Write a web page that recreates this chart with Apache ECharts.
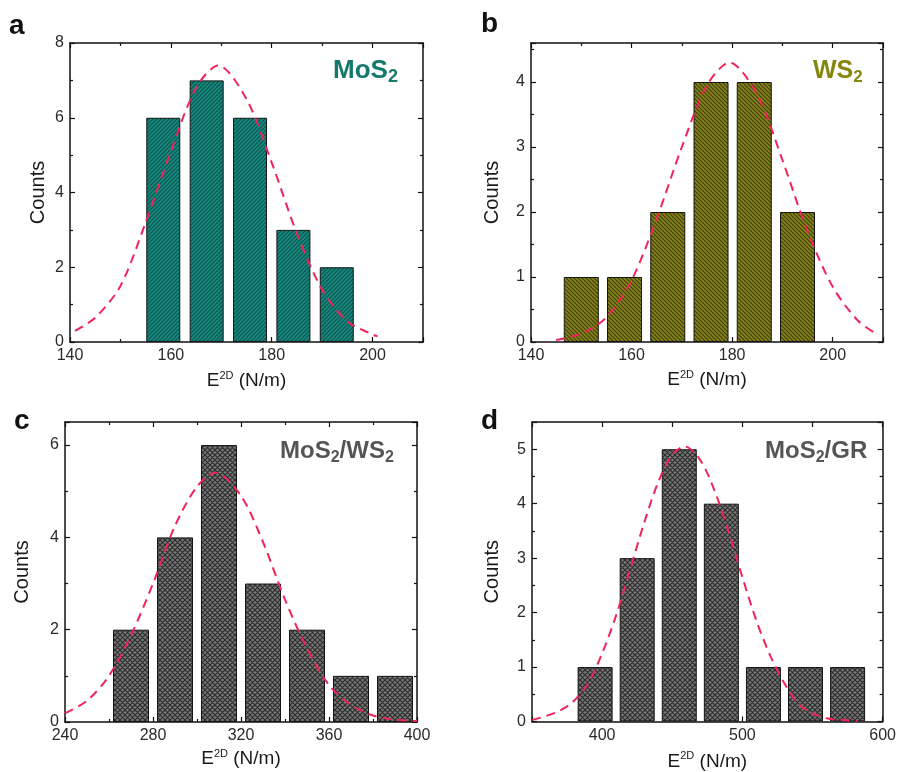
<!DOCTYPE html>
<html>
<head>
<meta charset="utf-8">
<script src="https://cdn.jsdelivr.net/npm/echarts@6/dist/echarts.min.js"></script>
<style>
html, body { margin: 0; background: #fff; }
#main { width: 899px; height: 772px; }
</style>
</head>
<body>
<div id="main"></div>
<script>
// histogram data (bin centres, counts) + gaussian fit points
var aCenters = [158.5, 167.1, 175.7, 184.3, 192.9];
var aCounts = [6, 7, 6, 3, 2];
var aFitX = [141, 145, 150, 155, 160, 165, 169.4, 175, 180, 185, 190, 195, 200, 201];
var aFitY = [0.30, 0.65, 1.5, 3.2, 5.1, 6.8, 7.4, 6.5, 4.8, 2.9, 1.4, 0.55, 0.2, 0.15];

var bCenters = [150, 158.6, 167.2, 175.8, 184.4, 193];
var bCounts = [1, 1, 2, 4, 4, 2];
var bFitX = [145, 150, 155, 160, 165, 170, 175, 179.5, 185, 190, 195, 200, 205, 209];
var bFitY = [0.03, 0.13, 0.38, 0.95, 1.9, 3.0, 3.95, 4.3, 3.8, 2.8, 1.7, 0.85, 0.33, 0.11];

var cCenters = [270, 290, 310, 330, 350, 370, 390];
var cCounts = [2, 4, 6, 3, 2, 1, 1];
var cFitX = [240, 250, 260, 270, 280, 290, 300, 308.5, 320, 330, 340, 350, 360, 370, 380, 390, 400];
var cFitY = [0.19, 0.46, 1.0, 1.88, 3.0, 4.25, 5.1, 5.4, 4.9, 3.9, 2.65, 1.6, 0.8, 0.37, 0.14, 0.05, 0.02];

var dCenters = [395, 425, 455, 485, 515, 545, 575];
var dCounts = [1, 3, 5, 4, 1, 1, 1];
var dFitX = [350, 360, 370, 380, 390, 400, 410, 420, 430, 440, 450, 459, 470, 480, 490, 500, 510, 520, 530, 540, 550, 560, 570, 582];
var dFitY = [0.03, 0.1, 0.2, 0.38, 0.7, 1.25, 1.95, 2.8, 3.65, 4.4, 4.9, 5.05, 4.8, 4.25, 3.5, 2.65, 1.85, 1.2, 0.7, 0.32, 0.15, 0.06, 0.03, 0.01];

// x / y axis ranges: [min, max, interval, minor split]
var aXRange = [140, 210, 20, 2], aYRange = [0, 8, 2, 2];
var bXRange = [140, 210, 20, 2], bYRange = [0, 4.6, 1, 2];
var cXRange = [240, 400, 40, 2], cYRange = [0, 6.5, 2, 2];
var dXRange = [350, 600, 50, 0], dYRange = [0, 5.5, 1, 2];

var chart = echarts.init(document.getElementById('main'));

function hatch(bg, fg, mode) {
    var s = mode === 'x' ? 5 : 4;
    var c = document.createElement('canvas');
    c.width = s; c.height = s;
    var g = c.getContext('2d');
    g.fillStyle = bg;
    g.fillRect(0, 0, s, s);
    g.strokeStyle = fg;
    g.lineWidth = mode === 'x' ? 1.1 : 1.1;
    g.beginPath();
    if (mode === '/' || mode === 'x') {
        g.moveTo(-1, s + 1); g.lineTo(s + 1, -1);
        g.moveTo(-1, 1); g.lineTo(1, -1);
        g.moveTo(s - 1, s + 1); g.lineTo(s + 1, s - 1);
    }
    if (mode === '\\' || mode === 'x') {
        g.moveTo(-1, -1); g.lineTo(s + 1, s + 1);
        g.moveTo(s - 1, -1); g.lineTo(s + 1, 1);
        g.moveTo(-1, s - 1); g.lineTo(1, s + 1);
    }
    g.stroke();
    return { image: c, repeat: 'repeat' };
}

var FONT = 'Liberation Sans, Arial, sans-serif';

var panels = [
    { grid: { left: 70, top: 43, width: 353, height: 299 }, xr: aXRange, yr: aYRange,
      centers: aCenters, counts: aCounts, fitX: aFitX, fitY: aFitY, barWidth: 34,
      fill: hatch('#168a81', '#0b514c', '/'), yGap: 22, xGap: 28 },
    { grid: { left: 531, top: 43, width: 352, height: 299 }, xr: bXRange, yr: bYRange,
      centers: bCenters, counts: bCounts, fitX: bFitX, fitY: bFitY, barWidth: 35,
      fill: hatch('#86841a', '#3e3c0a', '\\'), yGap: 29, xGap: 27 },
    { grid: { left: 65, top: 422, width: 352, height: 300 }, xr: cXRange, yr: cYRange,
      centers: cCenters, counts: cCounts, fitX: cFitX, fitY: cFitY, barWidth: 36,
      fill: hatch('#767676', '#2c2c2c', 'x'), yGap: 33, xGap: 26 },
    { grid: { left: 532, top: 422, width: 351, height: 300 }, xr: dXRange, yr: dYRange,
      centers: dCenters, counts: dCounts, fitX: dFitX, fitY: dFitY, barWidth: 35,
      fill: hatch('#767676', '#2c2c2c', 'x'), yGap: 30, xGap: 29 }
];

var grids = [], xAxes = [], yAxes = [], series = [];

function intLabel(v) {
    return Math.abs(v - Math.round(v)) < 1e-6 ? String(Math.round(v)) : '';
}

panels.forEach(function (p, i) {
    grids.push(p.grid);
    var tick = { show: true, inside: true, length: 5, lineStyle: { color: '#111', width: 1.2 } };
    var minor = { show: p.xr[3] > 0, splitNumber: p.xr[3], length: 3, lineStyle: { color: '#111', width: 1.2 } };
    var line = { show: true, onZero: false, lineStyle: { color: '#111', width: 1.5 } };
    var xBase = {
        type: 'value', gridIndex: i, min: p.xr[0], max: p.xr[1], interval: p.xr[2],
        axisTick: tick, minorTick: minor, axisLine: line, splitLine: { show: false }
    };
    xAxes.push(Object.assign({}, xBase, {
        position: 'bottom',
        axisLabel: {
            margin: 6, color: '#2a2a2a', fontSize: 16, fontFamily: FONT, showMaxLabel: i === 2 || i === 3,
            formatter: function (v) { return (i === 3 && v % 100 !== 0) ? '' : String(v); }
        },
        name: '{b|E}{s|2D}{b| (N/m)}', nameLocation: 'middle', nameGap: p.xGap,
        nameTextStyle: {
            rich: {
                b: { fontSize: 19, color: '#1a1a1a', fontFamily: FONT, lineHeight: 22 },
                s: { fontSize: 11, color: '#1a1a1a', fontFamily: FONT, lineHeight: 14, verticalAlign: 'top' }
            }
        }
    }));
    xAxes.push(Object.assign({}, xBase, { position: 'top', axisLabel: { show: false } }));

    var yMinor = { show: true, splitNumber: p.yr[3], length: 3, lineStyle: { color: '#111', width: 1.2 } };
    var yBase = {
        type: 'value', gridIndex: i, min: p.yr[0], max: p.yr[1], interval: p.yr[2],
        axisTick: tick, minorTick: yMinor, axisLine: line, splitLine: { show: false }
    };
    yAxes.push(Object.assign({}, yBase, {
        position: 'left',
        axisLabel: { margin: 6, color: '#2a2a2a', fontSize: 16, fontFamily: FONT, formatter: intLabel,
                     showMaxLabel: i === 0 },
        name: 'Counts', nameLocation: 'middle', nameGap: p.yGap,
        nameTextStyle: { fontSize: 20, color: '#1a1a1a', fontFamily: FONT }
    }));
    yAxes.push(Object.assign({}, yBase, { position: 'right', axisLabel: { show: false } }));

    series.push({
        type: 'bar', xAxisIndex: 2 * i, yAxisIndex: 2 * i,
        data: p.centers.map(function (c, k) { return [c, p.counts[k]]; }),
        barWidth: p.barWidth,
        itemStyle: { color: p.fill, borderColor: '#151515', borderWidth: 1 },
        silent: true
    });
    series.push({
        type: 'line', xAxisIndex: 2 * i, yAxisIndex: 2 * i,
        data: p.fitX.map(function (x, k) { return [x, p.fitY[k]]; }),
        smooth: 0.3, symbol: 'none', z: 5,
        lineStyle: { color: '#f0245a', width: 2, type: [9, 6] },
        silent: true
    });
});

function letter(t, left, top) {
    return { text: t, left: left, top: top, padding: 0,
             textStyle: { fontSize: 28, fontWeight: 'bold', color: '#111', fontFamily: FONT } };
}

function label(parts, left, top, color, size) {
    var rich = {
        m: { fontSize: size, fontWeight: 'bold', color: color, fontFamily: FONT, lineHeight: 30 },
        s: { fontSize: Math.round(size * 0.68), fontWeight: 'bold', color: color, fontFamily: FONT,
             lineHeight: 14, verticalAlign: 'bottom' }
    };
    return { text: parts, left: left, top: top, padding: 0, textStyle: { rich: rich } };
}

var option = {
    animation: false,
    title: [
        letter('a', 9, 12),
        letter('b', 481, 10),
        letter('c', 14, 407),
        letter('d', 481, 407),
        label('{m|MoS}{s|2}', 333, 56, '#14796c', 26),
        label('{m|WS}{s|2}', 813, 56, '#86860f', 25),
        label('{m|MoS}{s|2}{m|/WS}{s|2}', 280, 436, '#555555', 24),
        label('{m|MoS}{s|2}{m|/GR}', 765, 436, '#555555', 24)
    ],
    grid: grids,
    xAxis: xAxes,
    yAxis: yAxes,
    series: series
};

chart.setOption(option);
</script>
</body>
</html>
